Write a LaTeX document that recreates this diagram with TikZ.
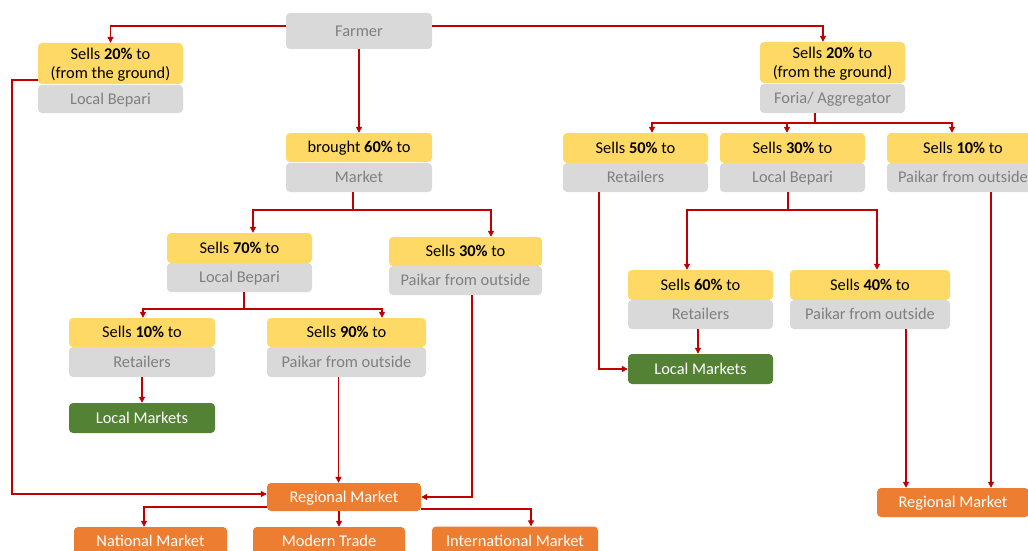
\documentclass[tikz,border=0pt]{standalone}
\usepackage{fontspec}
\setmainfont{Carlito}
\usetikzlibrary{arrows.meta,calc}
\definecolor{yel}{HTML}{FFD966}
\definecolor{gry}{HTML}{D9D9D9}
\definecolor{gtxt}{HTML}{7F7F7F}
\definecolor{grn}{HTML}{548235}
\definecolor{org}{HTML}{ED7D31}
\definecolor{lnred}{HTML}{C00000}
\begin{document}
\begin{tikzpicture}[x=1pt,y=-1pt,
  base/.style={rounded corners=4pt, inner sep=0pt, align=center,
               font=\fontsize{16.4}{19}\selectfont,
               text height=10.6pt, text depth=0pt},
  twoline/.style={text height=29.6pt, text depth=0pt},
  sz/.style 2 args={minimum width=#1pt, minimum height=#2pt},
  ybox/.style={base, fill=yel, text=black},
  gbox/.style={base, fill=gry, text=gtxt},
  lbox/.style={base, fill=grn, text=white},
  obox/.style={base, fill=org, text=white},
  wire/.style={draw=lnred, line width=1.2pt},
  conn/.style={wire, -{Triangle[length=6pt,width=6pt]}}]
\fill[white] (0,0) rectangle (1028,551);
\useasboundingbox (0,0) rectangle (1028,551);

% top level
\node[gbox, sz={146}{36}] (farmer) at (359,31) {Farmer};

% left branch: sold from the ground
\node[ybox, twoline, sz={145}{41}] (ly20) at (110.5,63.5) {Sells \textbf{20\%} to\\(from the ground)};
\node[gbox, sz={145}{28}] (lg) at (110.5,99) {Local Bepari};

% right branch: foria / aggregator
\node[ybox, twoline, sz={145}{41}] (ry20) at (832.5,62.5) {Sells \textbf{20\%} to\\(from the ground)};
\node[gbox, sz={145}{29}] (rg) at (832.5,98.5) {Foria/ Aggregator};

\node[ybox, sz={145}{30}] (r50y) at (635.5,148) {Sells \textbf{50\%} to};
\node[gbox, sz={145}{29}] (r50g) at (635.5,177.5) {Retailers};
\node[ybox, sz={145}{30}] (r30y) at (792.5,148) {Sells \textbf{30\%} to};
\node[gbox, sz={145}{29}] (r30g) at (792.5,177.5) {Local Bepari};
\node[ybox, sz={152}{30}] (r10y) at (963,148) {Sells \textbf{10\%} to};
\node[gbox, sz={152}{29}] (r10g) at (963,177.5) {Paikar from outside};

\node[ybox, sz={145}{30}] (s60y) at (700.5,285) {Sells \textbf{60\%} to};
\node[gbox, sz={145}{29}] (s60g) at (700.5,314.5) {Retailers};
\node[ybox, sz={160}{30}] (s40y) at (870,285) {Sells \textbf{40\%} to};
\node[gbox, sz={160}{29}] (s40g) at (870,314.5) {Paikar from outside};

\node[lbox, sz={145}{30}] (lmR) at (700.5,369) {Local Markets};
\node[obox, sz={152}{29}] (regR) at (953,502.5) {Regional Market};

% middle branch: brought to market
\node[ybox, sz={146}{29}] (m60y) at (359,147.5) {brought \textbf{60\%} to};
\node[gbox, sz={146}{29}] (m60g) at (359,177.5) {Market};

\node[ybox, sz={145}{30}] (s70y) at (239.5,248) {Sells \textbf{70\%} to};
\node[gbox, sz={145}{29}] (s70g) at (239.5,277.5) {Local Bepari};
\node[ybox, sz={153}{29}] (s30y) at (465.5,251.5) {Sells \textbf{30\%} to};
\node[gbox, sz={153}{29}] (s30g) at (465.5,280.5) {Paikar from outside};

\node[ybox, sz={146}{29}] (s10y) at (142,332.5) {Sells \textbf{10\%} to};
\node[gbox, sz={146}{30}] (s10g) at (142,362) {Retailers};
\node[ybox, sz={159}{29}] (s90y) at (346.5,332.5) {Sells \textbf{90\%} to};
\node[gbox, sz={159}{30}] (s90g) at (346.5,362) {Paikar from outside};

\node[lbox, sz={146}{30}] (lmL) at (142,418) {Local Markets};

\node[obox, sz={154}{28}] (regL) at (344,497) {Regional Market};
\node[obox, sz={153}{29}] (nat) at (150.5,541.5) {National Market};
\node[obox, sz={152}{29}] (mod) at (329,541.5) {Modern Trade};
\node[obox, sz={166}{29}] (intl) at (515,541) {International Market};

% bus points
\coordinate (busR) at (815,123);
\coordinate (busM) at (353,210);
\coordinate (busL) at (244,309);
\coordinate (busR2) at (788,210);
\coordinate (lside) at (12,80);

% farmer outputs
\draw[conn] ([yshift=5pt]farmer.west) -| (ly20.north);
\draw[conn] ([yshift=5pt]farmer.east) -| ([xshift=-9.5pt]ry20.north);
\draw[conn] (farmer.south) -- (m60y.north);

% ground sales to regional market
\draw[conn] (lside -| ly20.west) -- (lside) |- ([yshift=3pt]regL.west);

% aggregator split
\draw[wire] (rg.south -| busR) -- (busR);
\draw[conn] (busR) -| ([xshift=16.5pt]r50y.north);
\draw[conn] (busR) -| ([xshift=-5.5pt]r30y.north);
\draw[conn] (busR) -| ([xshift=-11pt]r10y.north);

\draw[conn] ([xshift=-36.5pt]r50g.south) |- (lmR.west);
\draw[wire] (r30g.south -| busR2) -- (busR2);
\draw[conn] (busR2) -| ([xshift=-13.5pt]s60y.north);
\draw[conn] (busR2) -| ([xshift=7pt]s40y.north);
\draw[conn] ([xshift=-2.5pt]s60g.south) -- ([xshift=-2.5pt]lmR.north);
\draw[conn] ([xshift=36pt]s40g.south) -- ([xshift=36pt]s40g.south |- regR.north);
\draw[conn] ([xshift=28pt]r10g.south) -- ([xshift=28pt]r10g.south |- regR.north);

% market split
\draw[wire] (m60g.south -| busM) -- (busM);
\draw[conn] (busM) -| ([xshift=13.5pt]s70y.north);
\draw[conn] (busM) -| ([xshift=25.5pt]s30y.north);

\draw[wire] (s70g.south -| busL) -- (busL);
\draw[conn] (busL) -| ([xshift=1pt]s10y.north);
\draw[conn] (busL) -| ([xshift=35.5pt]s90y.north);

\draw[conn] (s10g.south) -- (lmL.north);
\draw[conn] ([xshift=-8pt]s90g.south) -- ([xshift=-8pt]s90g.south |- regL.north);
\draw[conn] ([xshift=6.5pt]s30g.south) |- (regL.east);

% regional market outlets
\draw[conn] ([yshift=-10pt]regL.west) -| ([xshift=-6.5pt]nat.north);
\draw[conn] ([xshift=-5pt]regL.south) -- ([xshift=-5pt]regL.south |- mod.north);
\draw[conn] ([yshift=-12pt]regL.east) -| ([xshift=16pt]intl.north);
\end{tikzpicture}
\end{document}
